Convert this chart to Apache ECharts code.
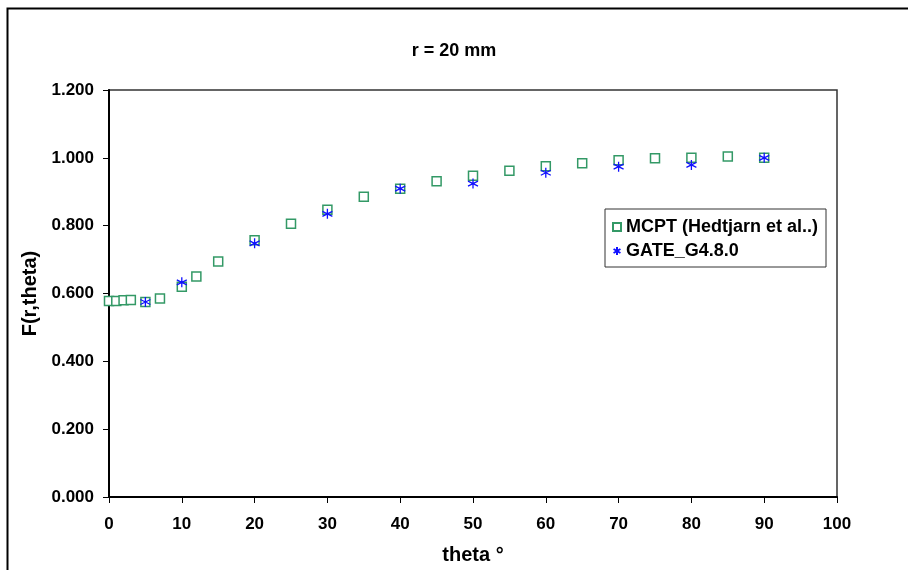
<!DOCTYPE html>
<html><head><meta charset="utf-8">
<script src="https://cdn.jsdelivr.net/npm/echarts@6/dist/echarts.min.js"></script>
<style>html,body{margin:0;padding:0;background:#fff}#c{width:908px;height:570px}</style>
</head><body><div id="c"></div>
<script>
const titleText = "r = 20 mm";
const xName = "theta °";
const yName = "F(r,theta)";
const mcptName = "MCPT (Hedtjarn et al..)";
const gateName = "GATE_G4.8.0";
const mcptTheta = [0,1,2,3,5,7,10,12,15,20,25,30,35,40,45,50,55,60,65,70,75,80,85,90];
const mcptF = [0.578,0.578,0.580,0.581,0.575,0.585,0.620,0.650,0.694,0.757,0.806,0.847,0.885,0.909,0.931,0.947,0.962,0.975,0.984,0.993,0.999,1.000,1.004,1.000];
const gateTheta = [5,10,20,30,40,50,60,70,80,90];
const gateF = [0.575,0.633,0.748,0.835,0.909,0.924,0.956,0.974,0.979,1.000];

const font = "Liberation Sans, Arial, sans-serif";
const chart = echarts.init(document.getElementById('c'), null, {renderer:'canvas'});
const asterisk = 'path://M5,0 L5,10 M0.7,2.5 L9.3,7.5 M0.7,7.5 L9.3,2.5';
chart.setOption({
  animation:false,
  backgroundColor:'#fff',
  graphic:[{type:'rect', left:5, top:6, shape:{x:0,y:0,width:960,height:620}, style:{fill:'none', stroke:'#000', lineWidth:2}, silent:true, z:-10}],
  title:{text:titleText, left:'center', top:37, textStyle:{fontFamily:font, fontSize:18, fontWeight:'bold', color:'#000'}},
  grid:{left:109, right:71, top:90, bottom:72, show:true, borderColor:'#333', borderWidth:1.5, backgroundColor:'transparent'},
  legend:{
    orient:'vertical', left:605, top:209, backgroundColor:'#fff',
    borderColor:'#333', borderWidth:1, padding:[9,8,7,7], itemGap:6,
    itemWidth:8, itemHeight:8,
    textStyle:{fontFamily:font, fontSize:18, fontWeight:'bold', color:'#000'},
    data:[{name:mcptName}, {name:gateName}]
  },
  xAxis:{type:'value', min:0, max:100, interval:10, name:xName, nameLocation:'middle', nameGap:48,
    nameTextStyle:{fontFamily:font, fontSize:20, fontWeight:'bold', color:'#000'},
    axisLine:{show:true, lineStyle:{color:'#000', width:2}},
    axisTick:{show:true, inside:false, length:6, lineStyle:{color:'#000', width:1}},
    axisLabel:{fontFamily:font, fontSize:17, fontWeight:'bold', color:'#000', margin:19},
    splitLine:{show:false}},
  yAxis:{type:'value', min:0, max:1.2, interval:0.2, name:yName, nameLocation:'middle', nameGap:57, nameRotate:90,
    nameTextStyle:{fontFamily:font, fontSize:20, fontWeight:'bold', color:'#000'},
    axisLine:{show:true, lineStyle:{color:'#000', width:2}},
    axisTick:{show:true, inside:false, length:6, lineStyle:{color:'#000', width:1}},
    axisLabel:{fontFamily:font, fontSize:17, fontWeight:'bold', color:'#000', margin:15, formatter:v=>v.toFixed(3)},
    splitLine:{show:false}},
  series:[
    {name:mcptName, type:'scatter', symbol:'rect', symbolSize:9,
     itemStyle:{color:'#fff', borderColor:'#339966', borderWidth:1.5, opacity:1},
     data:mcptTheta.map((t,i)=>[t,mcptF[i]]), z:2},
    {name:gateName, type:'scatter', symbol:asterisk, symbolSize:10,
     itemStyle:{color:'rgba(0,0,0,0)', borderColor:'#1010ff', borderWidth:1.3, opacity:1},
     data:gateTheta.map((t,i)=>[t,gateF[i]]), z:3}
  ]
});
</script></body></html>
